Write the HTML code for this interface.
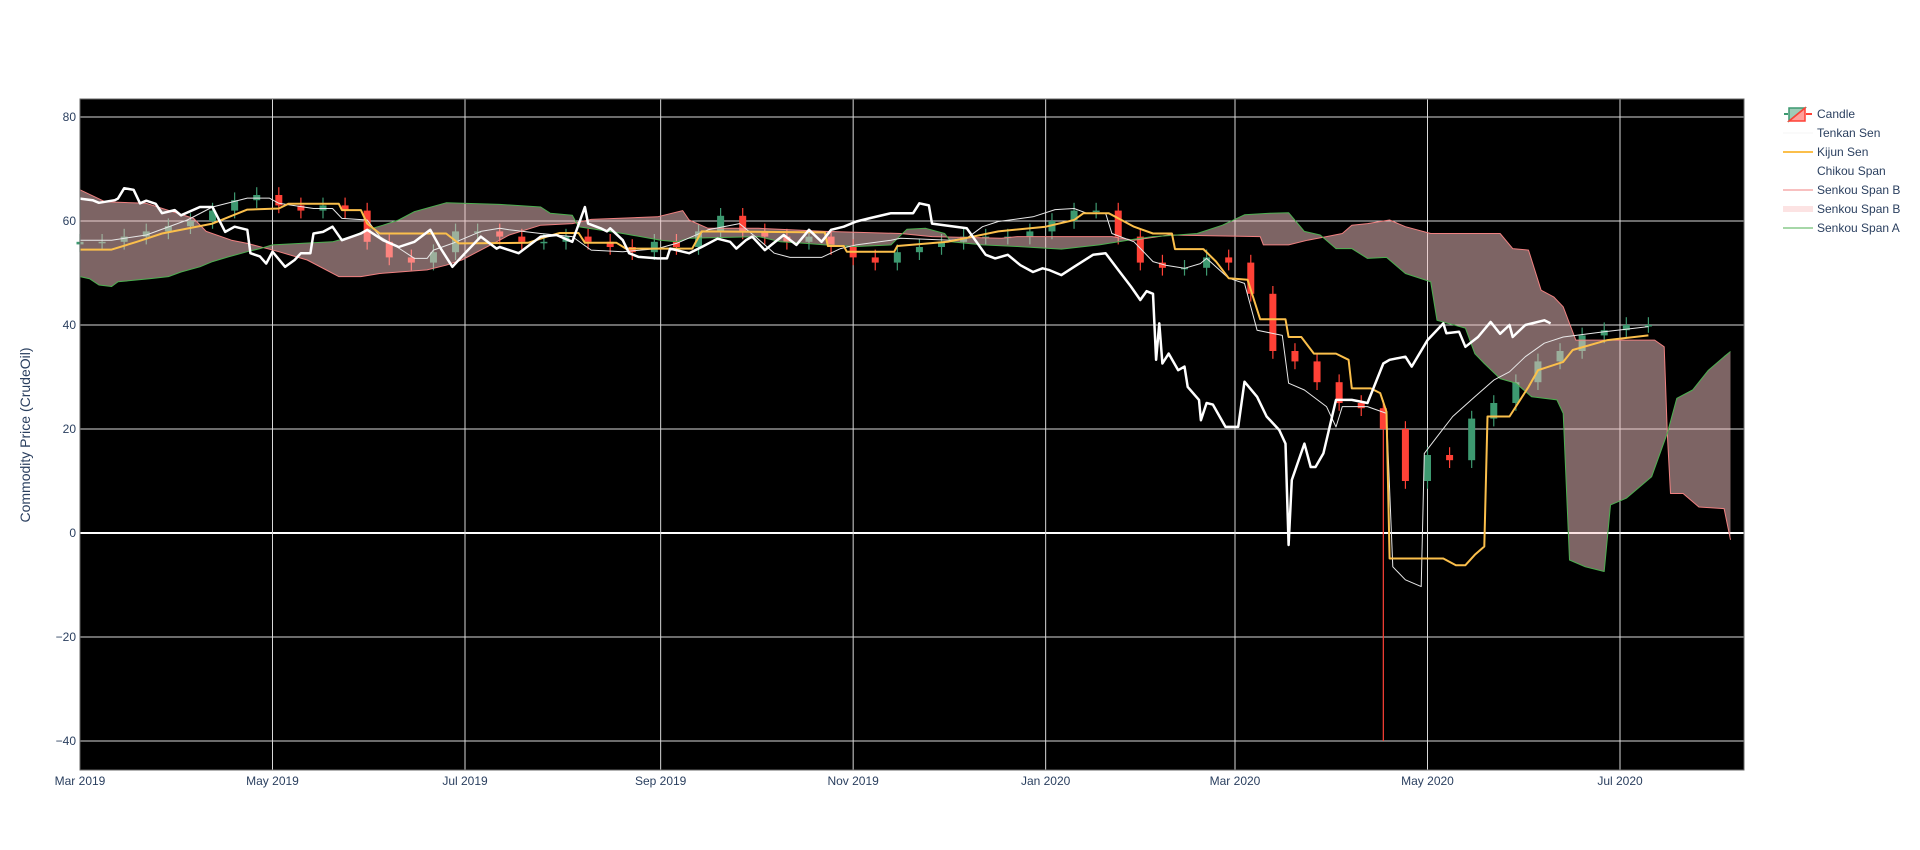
<!DOCTYPE html>
<html><head><meta charset="utf-8"><style>
html,body{margin:0;padding:0;background:#fff;}
svg{display:block;font-family:"Liberation Sans",sans-serif;}
</style></head><body>
<svg id="chart" width="1920" height="850" viewBox="0 0 1920 850">
<rect x="0" y="0" width="1920" height="850" fill="#fff"/>
<rect x="80" y="99" width="1664" height="671" fill="#000"/>
<g id="grid"></g>
<g id="candles"></g>
<g id="cloud"></g>
<g id="lines"></g>
<rect x="80" y="99" width="1664" height="671" fill="none" stroke="#666" stroke-width="1"/>
<g id="ticks"></g>
<text x="30" y="435" transform="rotate(-90 30 435)" text-anchor="middle" font-size="14" fill="#2a3f5f">Commodity Price (CrudeOil)</text>
<g id="legend">
  <g>
    <line x1="1784" y1="114" x2="1788" y2="114" stroke="#3d9970" stroke-width="2"/>
    <line x1="1806" y1="114" x2="1812" y2="114" stroke="#ff4136" stroke-width="2"/>
    <polygon points="1789,108 1805,108 1789,121" fill="rgba(61,153,112,0.5)" stroke="#3d9970" stroke-width="1.5"/>
    <polygon points="1805,108 1805,121 1789,121" fill="rgba(255,65,54,0.5)" stroke="#ff4136" stroke-width="1.5"/>
    <text x="1817" y="118" font-size="12" fill="#2a3f5f">Candle</text>
  </g>
  <g>
    <line x1="1783" y1="133" x2="1813" y2="133" stroke="#f4f4f4" stroke-width="1"/>
    <text x="1817" y="137" font-size="12" fill="#2a3f5f">Tenkan Sen</text>
  </g>
  <g>
    <line x1="1783" y1="152" x2="1813" y2="152" stroke="#fbbf4b" stroke-width="2"/>
    <text x="1817" y="156" font-size="12" fill="#2a3f5f">Kijun Sen</text>
  </g>
  <g>
    <text x="1817" y="175" font-size="12" fill="#2a3f5f">Chikou Span</text>
  </g>
  <g>
    <line x1="1783" y1="190" x2="1813" y2="190" stroke="#f08080" stroke-width="1"/>
    <text x="1817" y="194" font-size="12" fill="#2a3f5f">Senkou Span B</text>
  </g>
  <g>
    <rect x="1783" y="206" width="30" height="6" fill="rgba(250,200,200,0.5)"/>
    <text x="1817" y="213" font-size="12" fill="#2a3f5f">Senkou Span B</text>
  </g>
  <g>
    <line x1="1783" y1="228" x2="1813" y2="228" stroke="#4caf50" stroke-width="1"/>
    <text x="1817" y="232" font-size="12" fill="#2a3f5f">Senkou Span A</text>
  </g>
</g>
</svg>
<script>
// ---- data (day offsets from 2019-03-01) ----
const candleStepDays = 7;
const candleCloses = [56,56,57,58,59,60,62,64,65,63,62,63,62,56,53,52,54,58,58,57,56,56,57,56,55,54,56,55,58,61,58,57,56,57,55,53,52,54,55,56,57,57,57,58,60,62,62,57,52,51,51,53,52,46,35,33,29,25,24,20,10,15,14,22,25,29,33,35,38,39,40,40];
const candleFirstOpen = 55.5;
const candleLowOverride = {59: -40};
const kijunDays = [0,10,18,26,42,53,63,66,82,83,89,91,95,116,120,142,148,152,158,160,170,173,194,197,236,237,242,243,258,259,275,291,306,315,318,326,334,340,346,347,356,360,364,370,374,382,383,387,391,398,402,403,409,412,414,415,432,436,439,442,445,446,453,459,462,470,473,484,497];
const kijunVals = [54.5,54.5,56,57.6,59.5,62.2,62.4,63.3,63.3,62.1,62.1,59.5,57.6,57.6,55.7,55.8,57,57.7,57.7,55.8,55.8,54.7,54.7,58,57.8,55.2,55.2,54.1,54.1,55.2,56,58,58.9,60.2,61.5,61.5,58.9,57.6,57.6,54.6,54.6,52.2,49,48.7,41.1,41.1,37.7,37.7,34.5,34.5,33.3,27.8,27.8,26.9,23.3,-4.9,-4.9,-6.2,-6.2,-4.2,-2.6,22.4,22.4,28.1,31.3,32.9,35.2,37.1,38];
const tenkanDays = [0,10,21,34,42,53,60,63,74,80,83,91,95,100,106,110,112,118,127,133,136,146,156,162,172,183,189,199,209,214,220,225,235,241,246,257,260,276,281,286,291,302,309,315,319,325,327,334,340,344,350,355,357,364,369,373,381,383,388,395,398,400,408,414,416,420,425,426,430,435,442,448,453,458,464,470,483,497];
const tenkanVals = [56.3,56.3,57.3,60.2,62.7,64.4,64.4,63.4,62.4,62.4,60.5,60.2,57,55.2,52.8,52.8,54.4,55.7,58,58.6,58.3,57.6,57,54.4,54.1,54.7,55.7,58.3,59.5,57,53.8,53,53,54.7,55.4,56.3,56.7,56.3,56.7,58.9,59.9,60.8,62.2,62.4,61.5,61.5,57.6,56,52.2,51.5,50.9,51.8,52.8,49,48,39,38,28.8,27.5,24.3,20.4,24.3,24.3,23,-6.5,-9,-10.3,15.3,18.5,22.4,26.2,29.4,31,33.9,36.5,37.7,38.7,39.7];
const chikouPoints = [[0,64.3],[4,64],[6,63.5],[11,64],[12,64.3],[14,66.3],[17,66],[19,63.4],[21,63.9],[24,63.3],[26,61.5],[30,62.1],[32,61.1],[38,62.7],[42,62.7],[46,57.9],[49,58.9],[53,58.3],[54,53.8],[57,53.2],[59,51.8],[61,54.1],[65,51.2],[68,52.5],[70,53.8],[73,53.8],[74,57.6],[77,57.9],[80,58.9],[83,56.3],[89,57.6],[91,58.3],[96,56.3],[101,55],
[106,56],[111,58.3],[114,55],[118,51.2],[122,53.8],[127,57],[132,54.7],
[133,55],[139,53.8],[146,57],[151,57.3],[156,56],[160,62.7],[161,59.5],[165,58.6],[167,58],[168,58.6],[172,56.3],[174,53.8],[177,53.1],[183,52.8],[186,52.8],[187,54.7],[193,53.8],[197,55],[202,56.6],[206,56],[208,54.7],[211,56.3],[213,57],[217,54.4],[223,57.3],[227,55.4],[231,58.3],[235,56],[238,58.3],[242,58.9],[246,59.9],[250,60.5],[257,61.5],[263,61.5],
[264,61.5],[266,63.4],[269,63],[270,59.5],[281,58.6],[287,53.5],[290,52.8],[294,53.5],[298,51.5],[302,50.2],[305,50.9],[307,50.6],[311,49.6],[315,51.2],[321,53.5],[325,53.8],[329,50.6],[333,47.4],
[336,44.8],[338,46.5],[340,46],[341,33.3],[342,40.3],[343,32.6],[345,34.5],[348,31.3],[350,32],[351,28.1],[354.6,25.6],[355.2,21.7],[357,25],[359,24.7],[363,20.4],[367,20.4],[369,29.1],[373,26.2],[376,22.4],[380,19.8],[382,17.2],[383,-2.3],[384,10.2],[388,17.2],[390,12.7],[391.5,12.7],[394,15.3],[398,25.6],[403,25.6],[408,25],[413,32.6],[415,33.3],[420,33.9],[422,32],[427,37.1],[432,40.3],[433,38.4],[437,38.7],[439,35.8],[443,37.7],[447,40.6],[450,38.3],[453,40],[454,37.7],[458,40],[464,40.9],[466,40.3]];
const chikouDays = chikouPoints.map(p=>p[0]);
const chikouVals = chikouPoints.map(p=>p[1]);
const spanADays = [0,3,6,10,12,17,22,28,32,38,42,47,53,57,61,70,80,86,91,96,101,106,116,133,146,149,156,158,172,184,189,193,215,222,230,236,246,257,262,268,274,276,286,297,311,323,334,340,345,354,362,369,377,383,388,393,398,403,408,414,420,428,430,439,442,445,450,455,460,468,470,472,477,483,485,490,498,503,506,511,516,521,523];
const spanAVals = [49.3,48.9,47.7,47.4,48.3,48.6,48.9,49.3,50.2,51.2,52.2,53.1,54.1,54.7,55.4,55.7,56,57,58.3,59.2,60.2,61.8,63.5,63.2,62.7,61.5,61.1,58.9,57.6,56.3,56,56.7,57,56,55.7,55.4,55.1,55.4,58.4,58.6,57.6,56,55.4,55.1,54.6,55.4,56.5,57,57.2,57.6,59.2,61.2,61.5,61.6,58,57.3,54.7,54.7,52.8,53,49.9,48.3,40.9,39.4,34.5,32.6,29.7,28.8,26.2,25.6,23,-5.2,-6.5,-7.4,5.4,6.7,10.8,19.2,25.9,27.5,31.3,33.9,34.9];
const spanBDays = [0,8,21,36,40,48,53,63,72,82,89,95,110,116,121,133,136,146,156,162,183,191,193,199,215,225,236,260,270,292,297,327,334,345,374,375,383,389,395,400,403,408,415,420,428,450,454,459,463,467,470,472,474,499,502,503,504,508,513,521,523];
const spanBVals = [66,63.7,63.4,60.5,58,56.3,55.7,54.1,52.5,49.3,49.3,49.9,50.6,51.5,52.5,56.3,57.3,59.2,59.5,60.3,60.8,62,60.2,58.6,58.6,58.3,58,57.6,57,56.7,57,57,56.3,57.3,57,55.4,55.4,56.3,57,57.6,59.2,59.5,60.2,58.9,57.6,57.6,54.7,54.4,46.7,45.4,43.5,40.3,37.1,37.1,35.8,19.2,7.6,7.6,5,4.7,-1.3];
const xTickLabels = ["Mar 2019","May 2019","Jul 2019","Sep 2019","Nov 2019","Jan 2020","Mar 2020","May 2020","Jul 2020"];
const xTickDates = ["2019-03-01","2019-05-01","2019-07-01","2019-09-01","2019-11-01","2020-01-01","2020-03-01","2020-05-01","2020-07-01"];
const yTickVals = [80,60,40,20,0,-20,-40];
const yTickLabels = ["80","60","40","20","0","\u221220","\u221240"];

// ---- scales ----
const NS = "http://www.w3.org/2000/svg";
const PL = 80, PR = 1744, PT = 99, PB = 770;
const T0 = Date.UTC(2019,2,1);
const PX_PER_DAY = 1540/488;
function xDay(d){ return PL + d*PX_PER_DAY; }
function xDate(s){ const p=s.split('-'); return xDay((Date.UTC(+p[0],+p[1]-1,+p[2])-T0)/86400000); }
function yVal(v){ return 533 - v*5.2; }
function mk(tag, parent){ const e=document.createElementNS(NS,tag); parent.appendChild(e); return e; }

// grid + ticks
const grid = document.getElementById('grid'), ticks = document.getElementById('ticks');
yTickVals.forEach((v,i)=>{
  const l = mk('line',grid);
  
  
  l.setAttribute('x1',PL); l.setAttribute('x2',PR); l.setAttribute('y1',yVal(v)); l.setAttribute('y2',yVal(v));
  l.setAttribute('stroke', v===0 ? '#fff' : '#d8d8d8'); l.setAttribute('stroke-width', v===0 ? 2 : 1);
  const t = mk('text',ticks);
  
  
  t.setAttribute('x',76); t.setAttribute('y',yVal(v)+4); t.setAttribute('text-anchor','end');
  t.setAttribute('font-size','12'); t.setAttribute('fill','#2a3f5f'); t.textContent = yTickLabels[i];
});
xTickDates.forEach((s,i)=>{
  const x = xDate(s);
  const l = mk('line',grid);
  
  
  l.setAttribute('x1',x); l.setAttribute('x2',x); l.setAttribute('y1',PT); l.setAttribute('y2',PB);
  l.setAttribute('stroke','#d8d8d8'); l.setAttribute('stroke-width',1);
  const t = mk('text',ticks);
  
  
  t.setAttribute('x',x); t.setAttribute('y',785); t.setAttribute('text-anchor','middle');
  t.setAttribute('font-size','12'); t.setAttribute('fill','#2a3f5f'); t.textContent = xTickLabels[i];
});

// candles
const cg = document.getElementById('candles');
candleCloses.forEach((c,i)=>{
  const o = i===0 ? candleFirstOpen : candleCloses[i-1];
  const up = c >= o;
  const col = up ? '#3d9970' : '#ff4136';
  const hi = Math.max(o,c)+1.5;
  const lo = (i in candleLowOverride) ? candleLowOverride[i] : Math.min(o,c)-1.5;
  const x = xDay(i*candleStepDays);
  const w = mk('line',cg);
  
  
  w.setAttribute('x1',x); w.setAttribute('x2',x); w.setAttribute('y1',yVal(hi)); w.setAttribute('y2',yVal(lo));
  w.setAttribute('stroke',col); w.setAttribute('stroke-width',1.2);
  const b = mk('rect',cg);
  
  
  const yt = yVal(Math.max(o,c)), yb = yVal(Math.min(o,c));
  b.setAttribute('x',x-3.5); b.setAttribute('width',7);
  b.setAttribute('y',yt); b.setAttribute('height',Math.max(1.5,yb-yt));
  b.setAttribute('fill',col);
});

function pts(days, vals){ return days.map((d,i)=>xDay(d).toFixed(1)+','+yVal(vals[i]).toFixed(1)); }
function addLine(parent, days, vals, color, width, name){
  const p = mk('polyline',parent);
  
  
  p.setAttribute('points',pts(days,vals).join(' '));
  p.setAttribute('fill','none'); p.setAttribute('stroke',color); p.setAttribute('stroke-width',width);
  p.setAttribute('stroke-linejoin','round');
  return p;
}

// cloud
const cloud = document.getElementById('cloud');
const poly = mk('polygon',cloud);


poly.setAttribute('points', pts(spanADays,spanAVals).concat(pts(spanBDays,spanBVals).reverse()).join(' '));
poly.setAttribute('fill','rgba(250,200,200,0.5)');
addLine(cloud, spanBDays, spanBVals, '#f08080', 1, 'senkou-span-b-line');
addLine(cloud, spanADays, spanAVals, '#4caf50', 1, 'senkou-span-a-line');

// lines
const lg = document.getElementById('lines');
addLine(lg, tenkanDays, tenkanVals, '#e8e8e8', 1, 'tenkan-sen-line');
addLine(lg, kijunDays, kijunVals, '#fbbf4b', 2, 'kijun-sen-line');
addLine(lg, chikouDays, chikouVals, '#ffffff', 2.5, 'chikou-span-line');
</script>
</body></html>
